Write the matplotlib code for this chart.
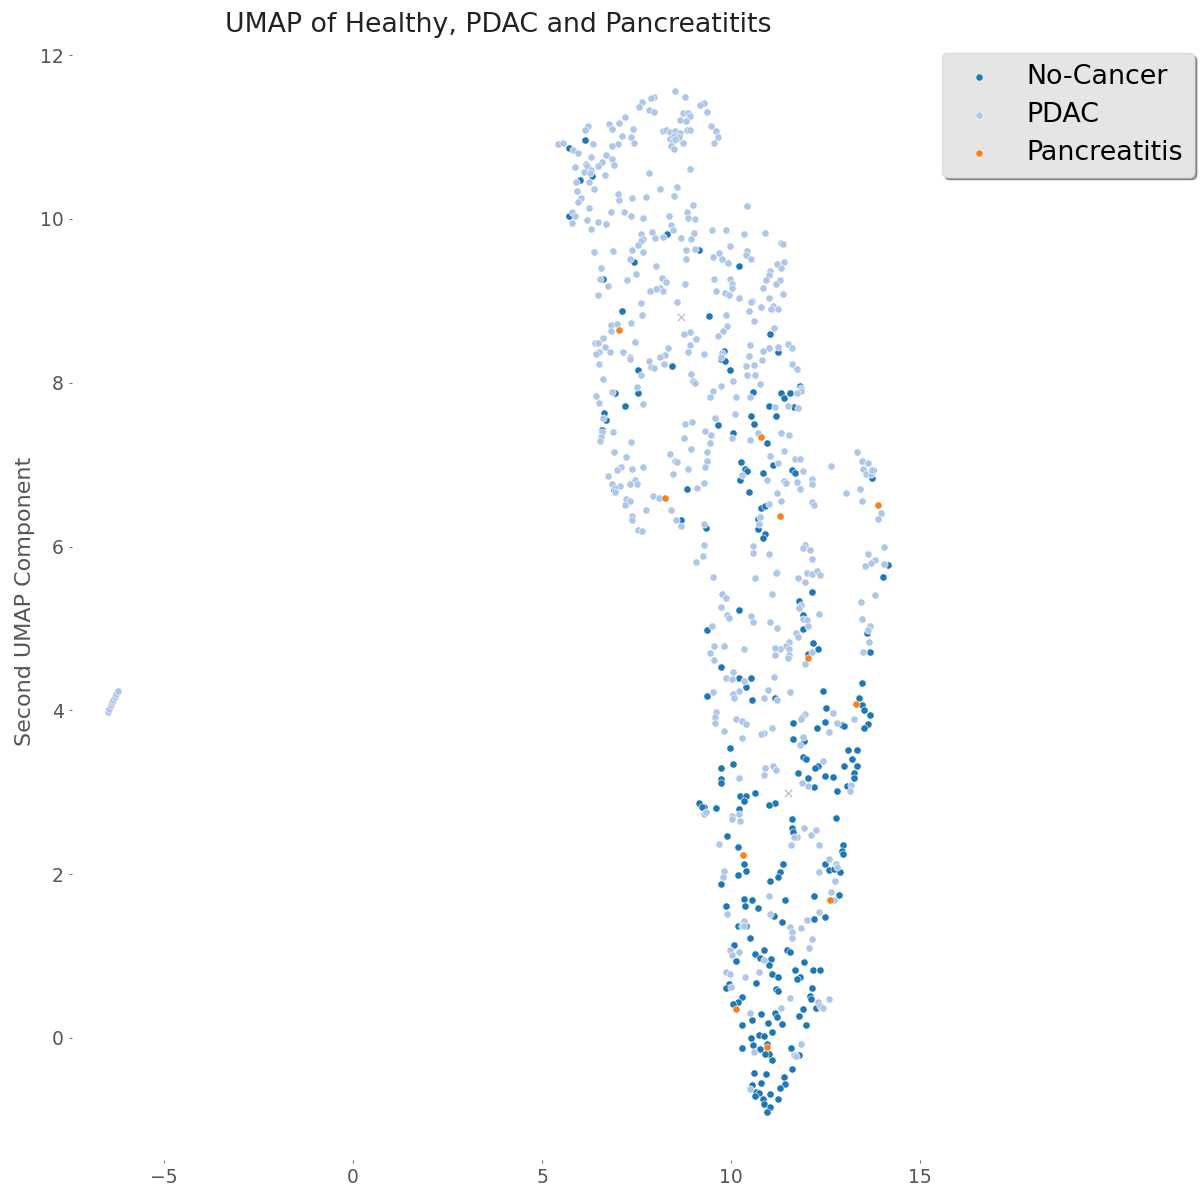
import numpy as np
import matplotlib
matplotlib.use('Agg')
import matplotlib.pyplot as plt

# values, (first component, second component)
pdac_left = [(-6.48,3.98),(-6.44,4.02),(-6.41,4.06),(-6.38,4.10),(-6.34,4.13),(-6.30,4.16),(-6.26,4.20),(-6.21,4.24)]

pdac_top = [(8.52,11.56),(8.77,11.49),(7.97,11.49),(7.87,11.48),(7.63,11.43),(7.57,11.37),(7.82,11.33),(7.96,11.31),
    (9.27,11.42),(9.18,11.39),(9.35,11.30),(8.74,11.29),(8.86,11.29),(8.90,11.26),(8.66,11.21),(8.81,11.20),
    (7.19,11.25),(7.04,11.17),(6.78,11.16),(6.84,11.10),(6.22,11.14),(6.13,11.08),(7.41,11.10),(8.19,11.07),
    (8.27,11.09),(8.39,11.06),(8.51,11.07),(8.64,11.05),(8.83,11.09),(8.92,11.09),(9.47,11.14),(9.59,11.07),
    (9.65,11.00),(9.54,10.93),(7.12,11.01),(7.36,11.00),(7.43,10.93),(7.00,10.91),(6.84,10.89),(6.35,10.92),
    (5.42,10.92),(5.55,10.93),(5.81,10.84),(5.95,10.81),(8.39,10.98),(8.48,11.01),(8.57,10.98),(8.46,10.95),
    (8.62,11.00),(8.52,10.97),(8.41,10.89),(8.49,10.85),(8.72,10.93),(6.69,10.78),(6.29,10.76),(6.85,10.73),
    (6.58,10.69),(6.91,10.66),(6.48,10.65),(6.16,10.67),(6.19,10.65),(5.88,10.63),(6.10,10.57),(6.30,10.60),
    (6.27,10.56),(6.67,10.54),(7.83,10.56),(8.92,10.61),(5.90,10.45),(6.23,10.45),(6.38,10.36),(5.92,10.34),
    (8.12,10.37),(8.56,10.39),(7.00,10.30),(7.04,10.23),(7.39,10.25),(7.75,10.27),(8.50,10.28),(6.03,10.25),
    (5.96,10.21),(6.23,10.13),(9.00,10.17),(10.42,10.16),(8.84,10.09),(5.80,10.08),(5.86,10.04),(5.78,9.95),
    (6.18,9.99),(6.30,9.88),(6.49,9.96),(6.69,9.94),(6.81,10.08),(7.16,10.09),(7.35,10.04),(7.68,10.01),
    (8.37,10.03),(8.87,10.01),(9.04,10.00),(8.42,9.92),(8.45,9.87),(7.62,9.82),(7.91,9.84),(7.68,9.76),
    (7.62,9.73),(7.55,9.68),(7.99,9.77),(8.21,9.78),(8.67,9.77),(8.95,9.75),(9.02,9.83),(9.49,9.86),
    (9.87,9.86),(10.33,9.81),(10.89,9.83),(9.98,9.67),(11.31,9.71),(11.37,9.69),(6.38,9.60),(6.87,9.61),
    (7.39,9.62),(7.68,9.60),(8.80,9.62),(9.05,9.63),(10.41,9.61),(10.40,9.56),(10.53,9.51),(9.52,9.53),
    (9.69,9.58),(9.76,9.51),(9.92,9.46),(8.80,9.51),(7.33,9.51),(11.21,9.45),(11.41,9.48),(11.33,9.40),
    (8.00,9.42),(6.57,9.40),(11.02,9.36),(11.00,9.31),(7.48,9.33),(6.52,9.27),(7.24,9.25),(8.17,9.28),
    (8.29,9.23),(8.77,9.21),(9.55,9.27),(9.98,9.27),(10.91,9.25),(11.28,9.25),(11.18,9.21),(10.03,9.20),
    (10.01,9.16),(10.85,9.16),(6.74,9.18),(8.12,9.16),(8.02,9.15),(7.86,9.12),(8.19,9.12),(9.61,9.12),
    (9.84,9.10),(9.94,9.07),(10.21,9.03),(11.36,9.08),(6.47,9.07),(10.54,9.00),(11.00,9.03)]

pdac_mid = [(7.62,8.97),(8.56,8.98),(7.64,8.83),(9.86,8.83),(10.53,8.99),(10.79,8.93),(10.47,8.87),(11.12,8.94),
    (11.05,8.90),(11.25,8.90),(10.61,8.75),(7.35,8.73),(6.83,8.70),(6.98,8.72),(6.83,8.63),(9.89,8.69),
    (9.79,8.63),(9.66,8.57),(11.14,8.67),(8.90,8.62),(8.76,8.59),(9.07,8.53),(6.60,8.54),(7.47,8.50),
    (6.39,8.48),(6.48,8.48),(6.67,8.44),(8.91,8.46),(8.32,8.43),(10.50,8.46),(11.51,8.47),(11.62,8.42),
    (11.24,8.44),(11.01,8.42),(10.84,8.39),(8.86,8.38),(6.80,8.38),(6.50,8.37),(6.43,8.35),(7.14,8.37),
    (9.27,8.35),(10.47,8.33),(9.75,8.36),(9.73,8.32),(8.24,8.34),(8.11,8.32),(7.32,8.32),(7.33,8.29),
    (7.84,8.26),(8.23,8.23),(10.81,8.28),(6.50,8.23),(10.61,8.22),(10.40,8.20),(11.60,8.23),(11.75,8.17),
    (7.87,8.19),(7.96,8.18),(7.62,8.09),(8.93,8.11),(10.43,8.09),(10.63,8.10),(6.60,8.05),(8.99,8.02),
    (9.05,8.00),(10.06,8.02),(10.76,7.98),(9.73,7.96),(9.52,7.90),(7.50,7.95),(11.86,7.94),(11.84,7.90),
    (11.73,7.88),(6.86,7.89),(9.43,7.83),(10.14,7.83),(10.49,7.83),(6.42,7.84),(6.51,7.75),(7.66,7.74),
    (11.15,7.70),(11.51,7.71),(11.77,7.69),(10.10,7.62),(9.58,7.57),(6.60,7.57),(8.96,7.52),(8.78,7.49),
    (9.31,7.41),(9.48,7.36),(6.88,7.40),(6.58,7.40),(6.55,7.34),(6.53,7.29),(10.71,7.39),(11.33,7.39),
    (11.53,7.36),(10.50,7.30),(10.03,7.32),(8.76,7.32),(7.34,7.28),(9.43,7.27),(8.93,7.19),(11.39,7.17),
    (9.37,7.16),(6.90,7.16),(13.34,7.15),(8.39,7.13),(7.21,7.09),(11.02,7.10),(11.69,7.07),(11.81,7.07),
    (13.45,7.04),(13.63,7.02),(8.51,7.05),(8.56,7.03),(9.36,7.04),(11.23,7.02),(9.30,6.97),(12.64,6.98),
    (7.08,6.97),(7.68,6.97),(6.97,6.94),(7.37,6.95),(8.87,6.95),(11.89,6.92),(13.48,6.95),(13.56,6.89),
    (13.71,6.89),(13.73,6.93),(8.47,6.88),(6.75,6.86),(10.28,6.87),(12.14,6.83),(10.96,6.81),(7.46,6.81),
    (7.33,6.76),(7.52,6.76),(7.07,6.74),(6.86,6.76),(6.94,6.71),(6.93,6.66),(11.39,6.80),(11.45,6.77),
    (11.75,6.79),(12.13,6.76),(9.28,6.77),(9.09,6.71),(11.83,6.70),(13.42,6.70),(13.03,6.65),(11.22,6.65),
    (7.94,6.62),(8.09,6.59),(7.21,6.58),(7.32,6.56),(7.20,6.51),(11.31,6.56),(12.13,6.54),(12.18,6.51),
    (13.45,6.56),(10.99,6.52),(13.97,6.41),(13.88,6.34),(7.75,6.44),(8.40,6.44),(7.37,6.37),(7.38,6.33),
    (8.53,6.33),(8.67,6.25),(9.28,6.28),(10.76,6.36),(10.73,6.27),(7.54,6.20),(7.65,6.19)]

pdac_low = [(9.28,6.02),(9.25,5.89),(9.06,5.81),(10.57,6.01),(10.57,5.92),(10.99,5.91),(11.94,6.02),(11.89,5.98),
    (12.09,5.96),(12.13,5.85),(14.05,6.00),(13.61,5.91),(13.81,5.84),(13.69,5.80),(13.53,5.76),(14.04,5.79),
    (9.52,5.63),(10.63,5.61),(11.22,5.69),(11.19,5.68),(12.00,5.68),(12.13,5.66),(12.26,5.70),(12.34,5.65),
    (11.77,5.61),(11.96,5.57),(9.77,5.42),(9.86,5.37),(11.09,5.42),(13.80,5.41),(13.44,5.32),(9.73,5.26),
    (11.85,5.29),(11.80,5.25),(12.32,5.18),(9.88,5.16),(9.94,5.13),(10.53,5.15),(10.59,5.08),(11.04,5.08),
    (11.20,5.00),(11.89,5.11),(12.00,5.10),(12.02,5.03),(13.45,5.12),(13.66,5.03),(13.63,4.98),(9.50,5.03),
    (11.71,4.95),(11.76,4.90),(13.64,4.83),(13.48,4.71),(11.52,4.83),(11.45,4.79),(11.28,4.75),(11.15,4.76),
    (11.16,4.68),(11.53,4.75),(11.52,4.68),(11.50,4.64),(12.15,4.71),(11.94,4.56),(10.34,4.75),(9.82,4.78),
    (9.55,4.78),(9.45,4.70),(9.54,4.61),(10.06,4.47),(9.86,4.39),(10.02,4.38),(10.34,4.36),(11.14,4.41),
    (10.22,4.24),(9.53,4.22),(10.05,4.20),(10.07,4.15),(10.98,4.25),(10.88,4.15),(11.21,4.13),(11.56,4.22),
    (12.69,3.97),(11.96,3.96),(11.87,3.92),(11.84,3.89),(13.24,3.89),(12.79,3.85),(12.59,3.74),(9.59,3.98),
    (9.57,3.92),(9.58,3.84),(10.13,3.89),(10.29,3.87),(10.40,3.83),(9.81,3.75),(11.07,3.79),(10.86,3.72),
    (10.79,3.71),(10.29,3.66),(11.90,3.67),(11.83,3.58),(12.42,3.38),(11.12,3.32),(10.89,3.30),(11.19,3.27),
    (10.86,3.21),(10.22,3.17),(11.87,3.11),(12.03,3.08),(13.18,3.09),(13.15,3.02)]

pdac_tip = [(9.29,2.74),(9.34,2.76),(10.03,2.71),(10.03,2.67),(10.22,2.74),(10.24,2.65),(11.93,2.56),(12.24,2.54),
    (12.11,2.48),(11.74,2.45),(11.67,2.45),(11.59,2.35),(12.32,2.36),(9.68,2.37),(12.58,2.19),(12.78,2.13),
    (12.81,2.09),(12.33,2.03),(9.81,2.04),(9.78,1.97),(12.74,1.92),(10.99,1.73),(12.64,1.78),(12.72,1.69),
    (9.88,1.51),(11.04,1.51),(12.32,1.54),(12.00,1.44),(10.34,1.43),(10.28,1.37),(10.33,1.37),(11.56,1.36),
    (11.84,1.34),(11.61,1.29),(11.62,1.22),(12.13,1.21),(12.06,1.10),(9.97,1.07),(10.20,1.05),(10.01,1.01),
    (10.86,0.95),(9.86,0.80),(9.98,0.78),(10.36,0.75),(10.73,0.80),(9.99,0.62),(11.56,0.49),(12.58,0.48),
    (12.30,0.44),(12.35,0.39),(12.42,0.37),(10.51,0.31),(11.31,0.36),(11.84,-0.07),(10.61,-0.17),(11.65,-0.21),
    (11.71,-0.22),(10.51,-0.62)]

nocancer_upper = [(6.13,10.96),(5.70,10.86),(6.31,10.53),(6.00,10.47),(5.70,10.04),(8.31,9.82),(9.15,9.62),(7.43,9.47),
    (10.22,9.43),(6.61,9.27),(7.12,8.88),(9.42,8.81),(11.04,8.60),(9.80,8.39),(11.24,8.38),(9.72,8.29),
    (9.84,8.26),(9.97,8.16),(7.54,8.16),(8.44,8.20),(6.93,7.87),(7.55,7.87),(10.57,7.89),(11.31,7.88),
    (11.56,7.87),(11.40,7.81),(11.81,7.96),(7.19,7.71),(10.99,7.72),(11.67,7.70),(6.65,7.63),(6.68,7.54),
    (10.52,7.59),(11.19,7.59),(10.61,7.49),(9.65,7.48),(10.05,7.39),(6.59,7.42),(10.95,7.26),(10.27,7.03),
    (11.10,7.00),(10.36,6.95),(10.43,6.92),(10.83,6.90),(11.60,6.93),(11.68,6.90),(13.76,6.94),(13.72,6.84),
    (10.24,6.81),(6.89,6.69),(8.84,6.70),(10.47,6.67),(10.79,6.47),(10.89,6.49),(8.68,6.32),(10.70,6.34),
    (9.34,6.23),(10.72,6.21),(10.89,6.15),(10.84,6.11)]

nocancer_mid = [(14.15,5.77),(14.02,5.63),(12.13,5.45),(11.79,5.34),(10.22,5.23),(11.90,5.17),(11.89,4.99),(9.36,4.98),
    (13.60,4.94),(12.16,4.82),(12.31,4.75),(12.03,4.69),(13.66,4.71),(9.73,4.53),(10.20,4.40),(10.53,4.39),
    (10.39,4.29),(9.37,4.18),(10.54,4.13),(11.16,4.15),(13.46,4.33),(12.42,4.24),(13.39,4.15),(13.45,4.07),
    (13.51,4.01),(12.52,4.03),(13.68,3.94),(12.47,3.86),(11.64,3.85),(13.62,3.83),(13.52,3.78),(12.27,3.78),
    (12.93,3.82),(12.99,3.81),(11.64,3.65),(11.93,3.63),(9.96,3.54),(13.09,3.52),(13.33,3.51),(13.20,3.41),
    (11.91,3.43),(11.97,3.41),(12.31,3.32),(12.23,3.30),(10.04,3.34),(9.73,3.30),(12.98,3.32),(13.34,3.32),
    (13.26,3.23),(11.76,3.23),(12.48,3.20),(12.69,3.19),(12.02,3.18),(13.25,3.17),(9.72,3.16),(9.74,3.11),
    (13.06,3.08),(12.19,3.07),(12.81,3.01),(10.63,2.99),(10.24,2.96),(10.39,2.95),(10.35,2.89),(11.15,2.87),
    (10.99,2.84),(9.16,2.87),(9.28,2.82),(9.61,2.81),(10.22,2.80),(9.22,2.82)]

nocancer_tip = [(11.60,2.67),(12.77,2.68),(11.62,2.56),(11.63,2.52),(9.89,2.47),(10.18,2.33),(12.95,2.36),(12.92,2.28),
    (12.95,2.24),(10.33,2.12),(11.37,2.13),(12.48,2.12),(12.59,2.05),(12.72,2.06),(12.87,2.03),(10.39,2.04),
    (10.19,1.99),(11.29,2.03),(11.25,1.96),(11.02,1.92),(9.73,1.88),(12.85,1.75),(12.19,1.73),(10.33,1.70),
    (10.55,1.69),(11.43,1.69),(9.87,1.61),(10.36,1.61),(10.70,1.59),(11.14,1.49),(12.49,1.48),(12.18,1.45),
    (11.35,1.42),(10.17,1.37),(10.40,1.37),(10.49,1.22),(10.07,1.13),(11.47,1.08),(11.55,1.05),(10.88,1.07),
    (10.64,1.03),(10.76,0.98),(11.06,0.97),(10.12,0.94),(11.93,0.93),(11.00,0.89),(11.68,0.83),(12.17,0.83),
    (12.34,0.83),(11.09,0.78),(11.24,0.75),(11.82,0.75),(11.74,0.72),(10.66,0.67),(9.94,0.66),(9.86,0.61),
    (12.13,0.61),(11.19,0.60),(11.23,0.57),(12.09,0.51),(12.12,0.47),(10.30,0.50),(10.17,0.44),(10.06,0.42),
    (11.90,0.35),(12.24,0.37),(11.16,0.30),(11.22,0.26),(10.80,0.29),(11.80,0.27),(10.55,0.22),(10.98,0.18),
    (10.28,0.16),(11.35,0.17),(11.97,0.16),(11.09,0.07),(10.74,0.04),(10.86,0.03),(10.53,0.00),(10.96,-0.07),
    (10.57,-0.09),(10.30,-0.12),(10.77,-0.13),(11.58,-0.12),(10.99,-0.19),(10.90,-0.20),(11.79,-0.21),(11.07,-0.27),
    (11.60,-0.38),(10.60,-0.43),(10.92,-0.44),(11.39,-0.48),(10.78,-0.55),(11.42,-0.56),(11.28,-0.61),(10.55,-0.58),
    (10.66,-0.66),(10.75,-0.67),(11.03,-0.68),(10.64,-0.71),(10.85,-0.74),(11.25,-0.75),(10.87,-0.81),(11.03,-0.84),
    (10.94,-0.90)]

pancreatitis = [(7.03,8.64),(10.79,7.34),(8.25,6.59),(11.30,6.37),(13.88,6.51),(12.04,4.64),(13.31,4.08),(10.32,2.23),
    (12.62,1.68),(10.14,0.35),(10.95,-0.11)]

cross_points = [(8.68,8.80),(11.51,2.99)]

xticks = [-5, 0, 5, 10, 15]
yticks = [0, 2, 4, 6, 8, 10, 12]

nocancer = np.array(nocancer_upper + nocancer_mid + nocancer_tip)
pdac = np.array(pdac_left + pdac_top + pdac_mid + pdac_low + pdac_tip)
panc = np.array(pancreatitis)
cross = np.array(cross_points)

fig = plt.figure(figsize=(12, 11.93), dpi=100)
ax = fig.add_axes([72/1200, 33/1193, 852/1200, 1118/1193])

ax.scatter(nocancer[:, 0], nocancer[:, 1], s=27, c='#1f77b4', edgecolors='white', linewidths=0.4, label='No-Cancer', zorder=2)
ax.scatter(pdac[:, 0], pdac[:, 1], s=27, c='#aec7e8', edgecolors='white', linewidths=0.4, label='PDAC', zorder=3)
ax.scatter(panc[:, 0], panc[:, 1], s=27, c='#f58220', edgecolors='white', linewidths=0.4, label='Pancreatitis', zorder=4)
ax.scatter(cross[:, 0], cross[:, 1], s=28, c='#aeb8c6', marker='x', linewidths=0.8, zorder=3)

ax.set_xlim(-7.43, 15.1)
ax.set_ylim(-1.49, 12.16)
ax.set_xticks(xticks)
ax.set_yticks(yticks)
ax.tick_params(labelsize=13.5, colors='#555555', length=2, width=0.6, pad=4)
for s in ax.spines.values():
    s.set_visible(False)

ax.set_ylabel('Second UMAP Component', fontsize=16, color='#555555', labelpad=3.5)
ax.set_title('UMAP of Healthy, PDAC and Pancreatitits', fontsize=19.3, color='#222222', pad=7)

leg = ax.legend(loc='upper right', bbox_to_anchor=(1194/1200, 1140/1193), bbox_transform=fig.transFigure,
                borderaxespad=0, fontsize=19.4, shadow=True, facecolor='#e5e5e5', edgecolor='#dddddd', framealpha=1,
                handletextpad=0.75, labelspacing=0.45, markerscale=1.0)

fig.savefig('out.png', dpi=100)
